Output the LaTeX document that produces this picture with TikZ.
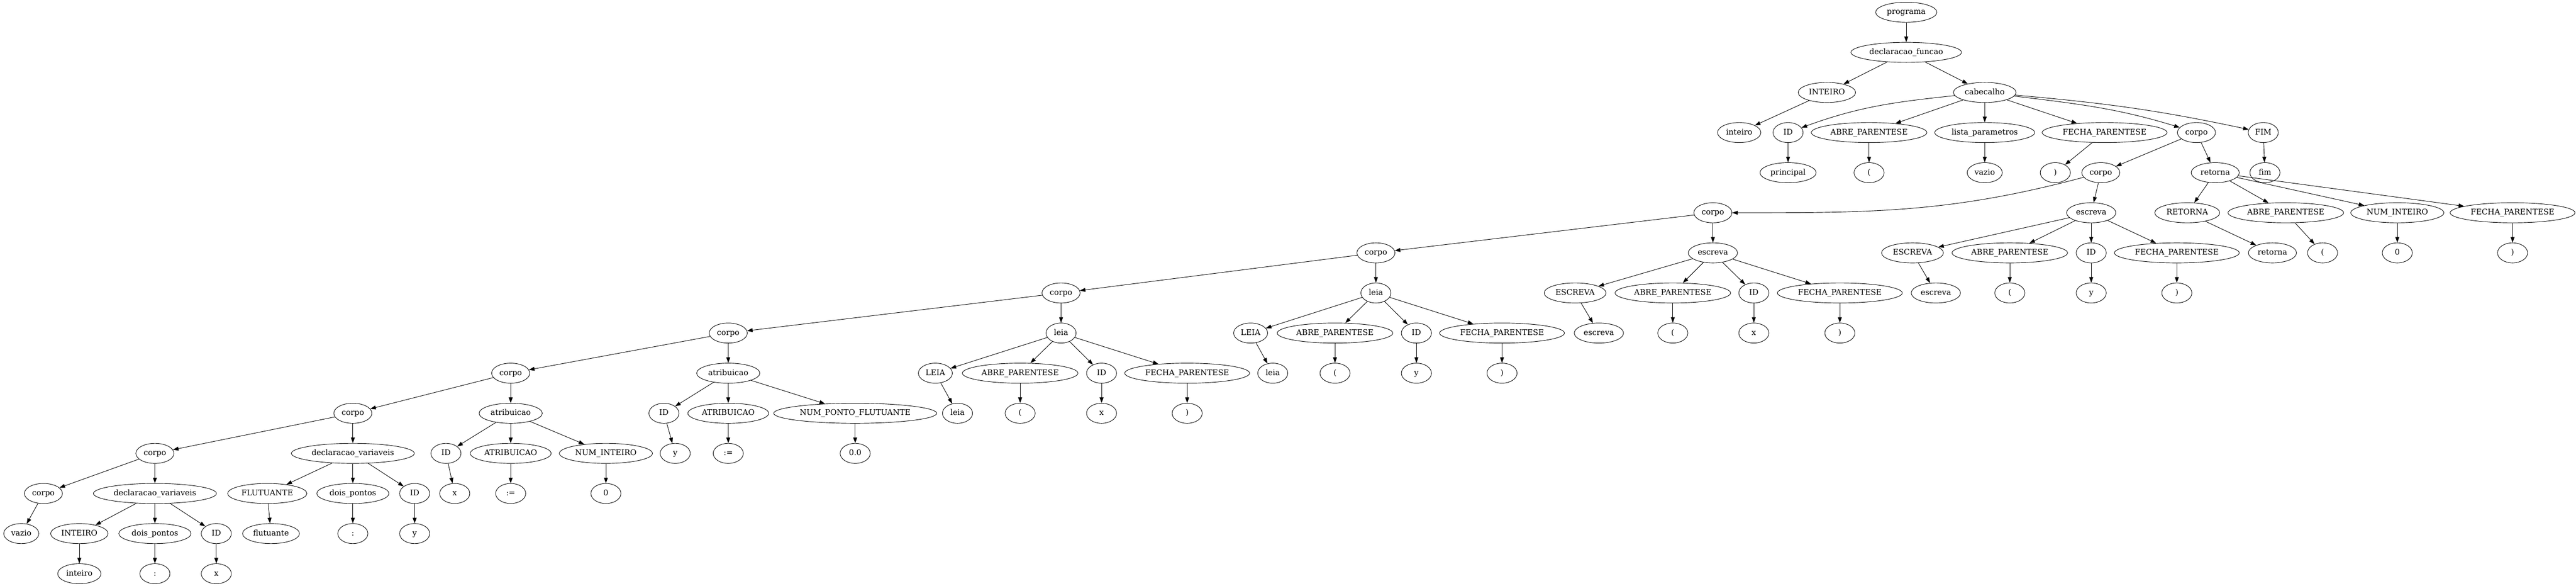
\documentclass[tikz,border=0pt]{standalone}
\usepackage{fontspec}
\setmainfont{DejaVu Serif}
\usepackage{tikz}
\usetikzlibrary{shapes.geometric,arrows.meta}

\begin{document}
\begin{tikzpicture}[x=0.75pt,y=72pt,
        vertex/.style={draw,ellipse,line width=0.85pt,minimum width=54pt,minimum height=36pt,inner xsep=4pt,inner ysep=2pt,text height=10.5pt,text depth=3pt,font=\fontsize{14pt}{16pt}\selectfont},
        link/.style={line width=0.85pt,-{Triangle[length=10pt,width=7pt]}}]
        \useasboundingbox (0,0.3056) rectangle (6169,-14.3056);
        \node[vertex] (1) at (4565,0) {programa};
        \node[vertex] (2) at (4565,-1) {declaracao\_funcao};
        \node[vertex] (3) at (4375,-2) {INTEIRO};
        \node[vertex] (4) at (4753,-2) {cabecalho};
        \node[vertex] (5) at (4165,-3) {inteiro};
        \node[vertex] (6) at (4282,-3) {ID};
        \node[vertex] (7) at (4476,-3) {ABRE\_PARENTESE};
        \node[vertex] (8) at (4753,-3) {lista\_parametros};
        \node[vertex] (9) at (5040,-3) {FECHA\_PARENTESE};
        \node[vertex] (10) at (5260,-3) {corpo};
        \node[vertex] (11) at (5420,-3) {FIM};
        \node[vertex] (12) at (4282,-4) {principal};
        \node[vertex] (13) at (4476,-4) {(};
        \node[vertex] (14) at (4753,-4) {vazio};
        \node[vertex] (15) at (4922,-4) {)};
        \node[vertex] (16) at (5031,-4) {corpo};
        \node[vertex] (17) at (5305,-4) {retorna};
        \node[vertex] (18) at (5424,-4) {fim};
        \node[vertex] (19) at (4102,-5) {corpo};
        \node[vertex] (20) at (5008,-5) {escreva};
        \node[vertex] (21) at (5238,-5) {RETORNA};
        \node[vertex] (22) at (5474,-5) {ABRE\_PARENTESE};
        \node[vertex] (23) at (5741,-5) {NUM\_INTEIRO};
        \node[vertex] (24) at (6017,-5) {FECHA\_PARENTESE};
        \node[vertex] (25) at (3295,-6) {corpo};
        \node[vertex] (26) at (4102,-6) {escreva};
        \node[vertex] (27) at (4580,-6) {ESCREVA};
        \node[vertex] (28) at (4813,-6) {ABRE\_PARENTESE};
        \node[vertex] (29) at (5008,-6) {ID};
        \node[vertex] (30) at (5213,-6) {FECHA\_PARENTESE};
        \node[vertex] (31) at (5442,-6) {retorna};
        \node[vertex] (32) at (5562,-6) {(};
        \node[vertex] (33) at (5741,-6) {0};
        \node[vertex] (34) at (6017,-6) {)};
        \node[vertex] (35) at (2541,-7) {corpo};
        \node[vertex] (36) at (3295,-7) {leia};
        \node[vertex] (37) at (3772,-7) {ESCREVA};
        \node[vertex] (38) at (4006,-7) {ABRE\_PARENTESE};
        \node[vertex] (39) at (4200,-7) {ID};
        \node[vertex] (40) at (4406,-7) {FECHA\_PARENTESE};
        \node[vertex] (41) at (4636,-7) {escreva};
        \node[vertex] (42) at (4813,-7) {(};
        \node[vertex] (43) at (5008,-7) {y};
        \node[vertex] (44) at (5213,-7) {)};
        \node[vertex] (45) at (1744,-8) {corpo};
        \node[vertex] (46) at (2541,-8) {leia};
        \node[vertex] (47) at (2995,-8) {LEIA};
        \node[vertex] (48) at (3197,-8) {ABRE\_PARENTESE};
        \node[vertex] (49) at (3392,-8) {ID};
        \node[vertex] (50) at (3597,-8) {FECHA\_PARENTESE};
        \node[vertex] (51) at (3829,-8) {escreva};
        \node[vertex] (52) at (4006,-8) {(};
        \node[vertex] (53) at (4200,-8) {x};
        \node[vertex] (54) at (4406,-8) {)};
        \node[vertex] (55) at (1223,-9) {corpo};
        \node[vertex] (56) at (1744,-9) {atribuicao};
        \node[vertex] (57) at (2240,-9) {LEIA};
        \node[vertex] (58) at (2443,-9) {ABRE\_PARENTESE};
        \node[vertex] (59) at (2638,-9) {ID};
        \node[vertex] (60) at (2843,-9) {FECHA\_PARENTESE};
        \node[vertex] (61) at (3048,-9) {leia};
        \node[vertex] (62) at (3197,-9) {(};
        \node[vertex] (63) at (3392,-9) {y};
        \node[vertex] (64) at (3597,-9) {)};
        \node[vertex] (65) at (845,-10) {corpo};
        \node[vertex] (66) at (1223,-10) {atribuicao};
        \node[vertex] (67) at (1590,-10) {ID};
        \node[vertex] (68) at (1744,-10) {ATRIBUICAO};
        \node[vertex] (69) at (2048,-10) {NUM\_PONTO\_FLUTUANTE};
        \node[vertex] (70) at (2293,-10) {leia};
        \node[vertex] (71) at (2443,-10) {(};
        \node[vertex] (72) at (2638,-10) {x};
        \node[vertex] (73) at (2843,-10) {)};
        \node[vertex] (74) at (371,-11) {corpo};
        \node[vertex] (75) at (845,-11) {declaracao\_variaveis};
        \node[vertex] (76) at (1068,-11) {ID};
        \node[vertex] (77) at (1223,-11) {ATRIBUICAO};
        \node[vertex] (78) at (1451,-11) {NUM\_INTEIRO};
        \node[vertex] (79) at (1617,-11) {y};
        \node[vertex] (80) at (1744,-11) {:=};
        \node[vertex] (81) at (2048,-11) {0.0};
        \node[vertex] (82) at (104,-12) {corpo};
        \node[vertex] (83) at (371,-12) {declaracao\_variaveis};
        \node[vertex] (84) at (640,-12) {FLUTUANTE};
        \node[vertex] (85) at (845,-12) {dois\_pontos};
        \node[vertex] (86) at (993,-12) {ID};
        \node[vertex] (87) at (1089,-12) {x};
        \node[vertex] (88) at (1223,-12) {:=};
        \node[vertex] (89) at (1451,-12) {0};
        \node[vertex] (90) at (51,-13) {vazio};
        \node[vertex] (91) at (190,-13) {INTEIRO};
        \node[vertex] (92) at (371,-13) {dois\_pontos};
        \node[vertex] (93) at (518,-13) {ID};
        \node[vertex] (94) at (649,-13) {flutuante};
        \node[vertex] (95) at (845,-13) {:};
        \node[vertex] (96) at (993,-13) {y};
        \node[vertex] (97) at (190,-14) {inteiro};
        \node[vertex] (98) at (371,-14) {:};
        \node[vertex] (99) at (518,-14) {x};
        \draw[link] (1) -- (2);
        \draw[link] (2) -- (3);
        \draw[link] (2) -- (4);
        \draw[link] (3) -- (5);
        \draw[link] (4) to[out=186,in=20] (6);
        \draw[link] (4) -- (7);
        \draw[link] (4) -- (8);
        \draw[link] (4) -- (9);
        \draw[link] (4) to[out=-7,in=163] (10);
        \draw[link] (4) to[out=-5,in=168] (11);
        \draw[link] (6) -- (12);
        \draw[link] (7) -- (13);
        \draw[link] (8) -- (14);
        \draw[link] (9) -- (15);
        \draw[link] (10) -- (16);
        \draw[link] (10) -- (17);
        \draw[link] (11) -- (18);
        \draw[link] (16) to[out=195,in=0] (19);
        \draw[link] (16) -- (20);
        \draw[link] (17) -- (21);
        \draw[link] (17) -- (22);
        \draw[link] (17) -- (23);
        \draw[link] (17) -- (24);
        \draw[link] (19) -- (25);
        \draw[link] (19) -- (26);
        \draw[link] (20) -- (27);
        \draw[link] (20) -- (28);
        \draw[link] (20) -- (29);
        \draw[link] (20) -- (30);
        \draw[link] (21) -- (31);
        \draw[link] (22) -- (32);
        \draw[link] (23) -- (33);
        \draw[link] (24) -- (34);
        \draw[link] (25) -- (35);
        \draw[link] (25) -- (36);
        \draw[link] (26) -- (37);
        \draw[link] (26) -- (38);
        \draw[link] (26) -- (39);
        \draw[link] (26) -- (40);
        \draw[link] (27) -- (41);
        \draw[link] (28) -- (42);
        \draw[link] (29) -- (43);
        \draw[link] (30) -- (44);
        \draw[link] (35) -- (45);
        \draw[link] (35) -- (46);
        \draw[link] (36) -- (47);
        \draw[link] (36) -- (48);
        \draw[link] (36) -- (49);
        \draw[link] (36) -- (50);
        \draw[link] (37) -- (51);
        \draw[link] (38) -- (52);
        \draw[link] (39) -- (53);
        \draw[link] (40) -- (54);
        \draw[link] (45) -- (55);
        \draw[link] (45) -- (56);
        \draw[link] (46) -- (57);
        \draw[link] (46) -- (58);
        \draw[link] (46) -- (59);
        \draw[link] (46) -- (60);
        \draw[link] (47) -- (61);
        \draw[link] (48) -- (62);
        \draw[link] (49) -- (63);
        \draw[link] (50) -- (64);
        \draw[link] (55) -- (65);
        \draw[link] (55) -- (66);
        \draw[link] (56) -- (67);
        \draw[link] (56) -- (68);
        \draw[link] (56) -- (69);
        \draw[link] (57) -- (70);
        \draw[link] (58) -- (71);
        \draw[link] (59) -- (72);
        \draw[link] (60) -- (73);
        \draw[link] (65) -- (74);
        \draw[link] (65) -- (75);
        \draw[link] (66) -- (76);
        \draw[link] (66) -- (77);
        \draw[link] (66) -- (78);
        \draw[link] (67) -- (79);
        \draw[link] (68) -- (80);
        \draw[link] (69) -- (81);
        \draw[link] (74) -- (82);
        \draw[link] (74) -- (83);
        \draw[link] (75) -- (84);
        \draw[link] (75) -- (85);
        \draw[link] (75) -- (86);
        \draw[link] (76) -- (87);
        \draw[link] (77) -- (88);
        \draw[link] (78) -- (89);
        \draw[link] (82) -- (90);
        \draw[link] (83) -- (91);
        \draw[link] (83) -- (92);
        \draw[link] (83) -- (93);
        \draw[link] (84) -- (94);
        \draw[link] (85) -- (95);
        \draw[link] (86) -- (96);
        \draw[link] (91) -- (97);
        \draw[link] (92) -- (98);
        \draw[link] (93) -- (99);
\end{tikzpicture}
\end{document}
